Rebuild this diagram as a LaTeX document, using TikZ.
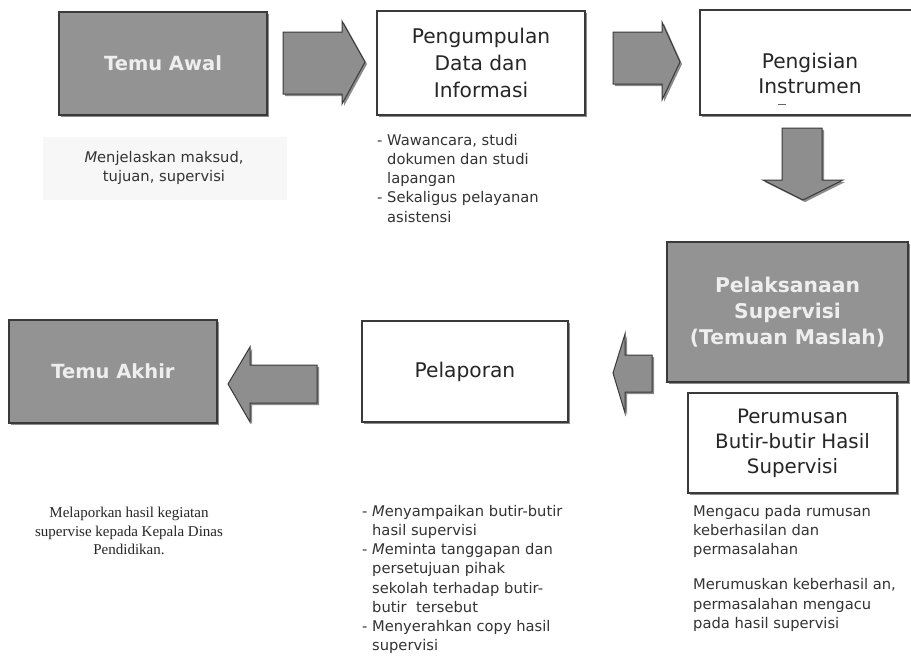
\documentclass[tikz,border=0pt]{standalone}
\usepackage{fontspec}
\setmainfont{DejaVu Sans}
\newfontfamily\serifnote{Liberation Serif}
\usetikzlibrary{shadows}
\definecolor{boxgray}{HTML}{939393}
\definecolor{edgegray}{HTML}{3A3A3A}
\definecolor{lighttext}{HTML}{EEEEEE}
\definecolor{arrowgray}{HTML}{8E8E8E}
\definecolor{notebg}{HTML}{F7F7F7}
\definecolor{notetext}{HTML}{333333}
\begin{document}
\begin{tikzpicture}[x=1pt,y=-1pt,
  shad/.style={drop shadow={shadow xshift=2pt,shadow yshift=-2pt,fill=black!45,opacity=1}},
  darkbox/.style={draw=edgegray,line width=1.2pt,fill=boxgray,text=lighttext,
    font=\fontsize{19.5}{26}\selectfont\bfseries,align=center,shad,inner sep=0pt},
  whitebox/.style={draw=edgegray,line width=1.2pt,fill=white,text=black!85,
    font=\fontsize{20.2}{27}\selectfont,align=center,shad,inner sep=0pt},
  boxtext/.style={text=black!85,font=\fontsize{20.2}{25}\selectfont,align=center,inner sep=0pt},
  blockarrow/.style={draw=edgegray,line width=1pt,fill=arrowgray,line join=miter,shad},
  note/.style={font=\fontsize{14.7}{19.2}\selectfont,text=notetext,align=left,inner sep=0pt},
]
\useasboundingbox (0,0) rectangle (911,657);
\fill[white] (0,0) rectangle (911,657);

% ---- top row ----
\node[darkbox,minimum width=208pt,minimum height=103pt] (awal) at (163,63.5) {Temu Awal};
\node[whitebox,minimum width=208pt,minimum height=104pt] (kumpul) at (481,63) {Pengumpulan\\Data dan\\Informasi};
\node[whitebox,minimum width=222pt,minimum height=105pt] (isi) at (811,62.5) {};
\node[boxtext] (isitext) at (810,73) {Pengisian\\Instrumen};
\coordinate (dashA) at (778,104);
\coordinate (dashB) at (786,104);
\draw[black!60,line width=0.8pt] (dashA) -- (dashB);

% ---- right column ----
\node[darkbox,minimum width=241pt,minimum height=140pt,font=\fontsize{20.3}{26}\selectfont\bfseries] (laksana) at (787.5,312) {Pelaksanaan\\Supervisi\\(Temuan Maslah)};
\node[whitebox,minimum width=209pt,minimum height=100pt,font=\fontsize{19.8}{25}\selectfont] (rumus) at (792.5,443) {Perumusan\\Butir-butir Hasil\\Supervisi};

% ---- bottom row ----
\node[whitebox,minimum width=206pt,minimum height=101pt] (lapor) at (465,371.5) {Pelaporan};
\node[darkbox,minimum width=208pt,minimum height=103pt] (akhir) at (113,371.5) {Temu Akhir};

% ---- block arrows ----
\draw[blockarrow] (283,32) -- (342,32) -- (342,21) -- (365,62) -- (342,104) -- (342,94) -- (283,94) -- cycle;
\draw[blockarrow] (613,32) -- (662,32) -- (662,22) -- (680,62) -- (662,100) -- (662,84) -- (613,84) -- cycle;
\draw[blockarrow] (782,128) -- (822,128) -- (822,180) -- (843,180) -- (803,200) -- (763,180) -- (782,180) -- cycle;
\draw[blockarrow] (652,355) -- (625,355) -- (625,334) -- (613,373) -- (625,413) -- (625,392) -- (652,392) -- cycle;
\draw[blockarrow] (317,365) -- (250,365) -- (250,347) -- (228,384) -- (250,422) -- (250,403) -- (317,403) -- cycle;

% ---- notes ----
\fill[notebg] (43,137) rectangle (287,200);
\node[note,align=center] (n1) at (164,168) {{\itshape M}enjelaskan maksud,\\tujuan, supervisi};
\node[note,anchor=north west] (n2) at (377,134) {- Wawancara, studi\\\hphantom{- }dokumen dan studi\\\hphantom{- }lapangan\\- Sekaligus pelayanan\\\hphantom{- }asistensi};
\node[note,anchor=north west] (n3) at (362,505) {- {\itshape M}enyampaikan butir-butir\\\hphantom{- }hasil supervisi\\- {\itshape M}eminta tanggapan dan\\\hphantom{- }persetujuan pihak\\\hphantom{- }sekolah terhadap butir-\\\hphantom{- }butir~ tersebut\\- Menyerahkan copy hasil\\\hphantom{- }supervisi};
\node[note,anchor=north west] (n4) at (693,505) {Mengacu pada rumusan\\keberhasilan dan\\permasalahan\\[16pt]Merumuskan keberhasil an,\\permasalahan mengacu\\pada hasil supervisi};
\node[font=\serifnote\fontsize{15}{18.5}\selectfont,text=black!85,align=center,inner sep=0pt] (n5) at (129,531) {Melaporkan hasil kegiatan\\supervise kepada Kepala Dinas\\Pendidikan.};
\end{tikzpicture}
\end{document}
